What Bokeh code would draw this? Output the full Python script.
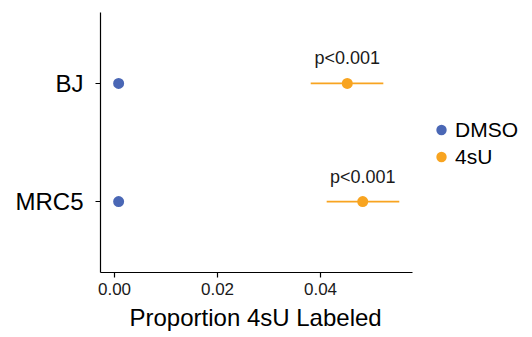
from bokeh.plotting import figure
from bokeh.models import Range1d, FactorRange, FixedTicker, Legend, LegendItem, ColumnDataSource, Title
from bokeh.core.properties import value
from bokeh.embed import file_html
from bokeh.resources import INLINE

cell_lines = ["BJ", "MRC5"]
dmso_mean = [0.0008, 0.0008]
s4u_mean = [0.0452, 0.0482]
s4u_low = [0.0381, 0.0412]
s4u_high = [0.0522, 0.0553]
p_labels = ["p<0.001", "p<0.001"]
x_ticks = [0.0, 0.02, 0.04]
x_axis_span = (-0.00272, 0.05786)
x_title = "Proportion 4sU Labeled"

BLUE = "#4A67B5"
ORANGE = "#F8A420"
FONT = "Liberation Sans"

p = figure(frame_width=428, frame_height=260, output_backend="svg", toolbar_location=None,
           x_range=Range1d(x_axis_span[0], 0.08039),
           y_range=FactorRange(factors=cell_lines[::-1], range_padding=0.1),
           min_border_left=100, min_border_right=0, min_border_top=12, min_border_bottom=0)
p.outline_line_color = None
p.xgrid.visible = False
p.ygrid.visible = False
p.background_fill_color = "white"
p.border_fill_color = "white"

src_d = ColumnDataSource(dict(y=cell_lines, x=dmso_mean))
src_s = ColumnDataSource(dict(y=cell_lines, x=s4u_mean, lo=s4u_low, hi=s4u_high, lab=p_labels))

seg = p.segment(x0="lo", x1="hi", y0="y", y1="y", source=src_s, line_color=ORANGE, line_width=1.6)
rd = p.scatter(x="x", y="y", source=src_d, size=11, fill_color=BLUE, line_color=None)
rs = p.scatter(x="x", y="y", source=src_s, size=11, fill_color=ORANGE, line_color=None)
p.text(x="x", y="y", text="lab", source=src_s, y_offset=-25, text_align="center",
       text_baseline="alphabetic", text_font=value(FONT), text_font_size="18px", text_color="#1a1a1a")

p.xaxis.ticker = FixedTicker(ticks=x_ticks)
p.xaxis.bounds = x_axis_span
p.xaxis.major_label_overrides = {t: f"{t:.2f}" for t in x_ticks}
for ax in (p.xaxis[0], p.yaxis[0]):
    ax.axis_line_color = "black"
    ax.axis_line_width = 1.2
    ax.major_tick_line_color = "black"
    ax.major_tick_line_width = 1.2
    ax.major_tick_out = 5
    ax.major_tick_in = 0
    ax.minor_tick_line_color = None
    ax.major_label_text_font = FONT
    ax.major_label_text_color = "#1a1a1a"
p.xaxis.major_label_text_font_size = "17px"
p.xaxis.major_label_standoff = 5
p.yaxis.major_label_text_font_size = "24px"
p.yaxis.major_label_standoff = 12
p.yaxis.major_label_text_color = "black"

p.add_layout(Title(text=x_title, align="left", offset=29, standoff=8,
                   text_font=FONT, text_font_size="24px", text_font_style="normal",
                   text_color="black"), "below")

legend = Legend(items=[LegendItem(label="DMSO", renderers=[rd]), LegendItem(label="4sU", renderers=[rs])],
                location=(328, 102), orientation="vertical",
                glyph_width=26, glyph_height=27, label_height=27, spacing=0,
                label_standoff=1, padding=0, margin=0,
                border_line_color=None, background_fill_alpha=0,
                label_text_font=FONT, label_text_font_size="21px", label_text_color="black")
p.add_layout(legend, "center")

open("out.html", "w").write(file_html(p, INLINE))
